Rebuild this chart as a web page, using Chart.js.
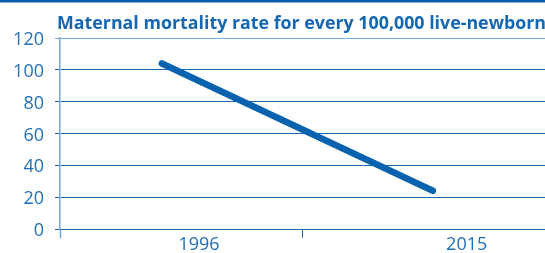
<!DOCTYPE html>
<html>
<head>
<meta charset="utf-8">
<script src="https://cdn.jsdelivr.net/npm/chart.js@4/dist/chart.umd.min.js"></script>
<style>
  html, body { margin: 0; padding: 0; background: #ffffff; }
  #wrap { width: 545px; height: 253px; position: relative; }
</style>
</head>
<body>
<div id="wrap"><canvas id="c" width="545" height="253"></canvas></div>
<script>
// ---- data ----
const titleText = 'Maternal mortality rate for every 100,000 live-newborn';
const categories = ['1996', '2015'];
const values = [104, 24];
const yTicks = [0, 20, 40, 60, 80, 100, 120];

// ---- style / layout constants ----
const TEXT = '#1f6fb6';
const GRID = '#1766b1';
const LINE = '#0862ad';
const AXIS = '#6fa4d6';
const X_MIN = -0.376, X_MAX = 1.414, X_SPLIT = 0.52;
const LABEL_SHIFT = [0.137, 0.125];
const labelPos = categories.map((c, i) => i + LABEL_SHIFT[i]);

const decor = {
  id: 'decor',
  beforeDraw(chart) {
    const ctx = chart.ctx;
    ctx.save();
    ctx.fillStyle = '#0a5ea8';
    ctx.fillRect(0, 0, chart.width, 2.5);
    ctx.restore();
  },
  afterDraw(chart) {
    const ctx = chart.ctx;
    ctx.save();
    ctx.fillStyle = '#1467b0';
    ctx.font = 'bold 18.5px "Open Sans"';
    ctx.textBaseline = 'alphabetic';
    ctx.textAlign = 'left';
    ctx.fillText(titleText, 57, 29, 489);
    ctx.restore();
  }
};

new Chart(document.getElementById('c'), {
  type: 'line',
  data: {
    datasets: [{
      data: categories.map((c, i) => ({ x: i, y: values[i] })),
      borderColor: LINE,
      borderWidth: 6.5,
      borderCapStyle: 'round',
      pointRadius: 0,
      tension: 0,
      clip: false
    }]
  },
  options: {
    responsive: false,
    animation: false,
    layout: { padding: { top: 38, left: 0, right: 0, bottom: 0 } },
    plugins: { legend: { display: false }, title: { display: false }, tooltip: { enabled: false } },
    scales: {
      x: {
        type: 'linear',
        min: X_MIN,
        max: X_MAX,
        afterBuildTicks(scale) {
          const vals = [X_MIN, X_SPLIT, X_MAX].concat(labelPos).sort((a, b) => a - b);
          scale.ticks = vals.map(v => ({ value: v }));
        },
        afterFit(scale) { scale.height = 24; },
        ticks: {
          autoSkip: false,
          maxRotation: 0,
          padding: -4,
          color: TEXT,
          font: { family: '"Open Sans"', size: 18 },
          callback(v) {
            const idx = labelPos.findIndex(p => Math.abs(p - v) < 1e-6);
            return idx >= 0 ? categories[idx] : '';
          }
        },
        grid: {
          drawOnChartArea: false,
          drawTicks: true,
          tickLength: 9,
          tickWidth: (ctx) => (ctx.tick && Math.abs(ctx.tick.value - X_MIN) < 1e-6 ? 1.5 : 1),
          tickColor: (ctx) => {
            const v = ctx.tick ? ctx.tick.value : 0;
            if (Math.abs(v - X_MIN) < 1e-6) return AXIS;
            if (Math.abs(v - X_SPLIT) < 1e-6) return GRID;
            return 'rgba(0,0,0,0)';
          }
        },
        border: { display: false }
      },
      y: {
        min: 0,
        max: 120,
        afterBuildTicks(scale) { scale.ticks = yTicks.map(v => ({ value: v })); },
        afterFit(scale) { scale.width = 60; },
        ticks: {
          padding: 11,
          labelOffset: 2,
          color: TEXT,
          font: { family: '"Open Sans"', size: 18 }
        },
        grid: {
          color: (ctx) => (ctx.tick && ctx.tick.value === 120 ? '#7aaedc' : GRID),
          lineWidth: 1,
          tickLength: 5
        },
        border: { display: true, color: AXIS, width: 1.5 }
      }
    }
  },
  plugins: [decor]
});
</script>
</body>
</html>
